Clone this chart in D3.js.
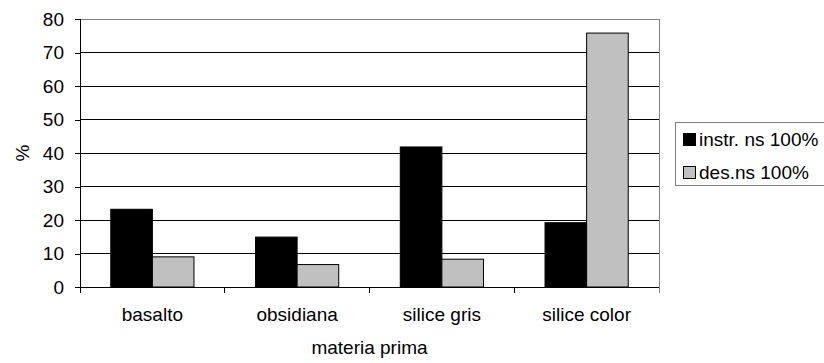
<!DOCTYPE html>
<html><head><meta charset="utf-8">
<script src="https://cdn.jsdelivr.net/npm/d3@7/dist/d3.min.js"></script>
<style>body{margin:0;background:#fff}svg{display:block}text{font-family:"Liberation Sans",Arial,sans-serif;fill:#000}</style>
</head><body><svg id="c" width="824" height="363"></svg>
<script>
const categories = ["basalto", "obsidiana", "silice gris", "silice color"];
const seriesNames = ["instr. ns 100%", "des.ns 100%"];
const instr = [23.2, 14.9, 41.8, 19.2];
const des = [9.0, 6.7, 8.3, 75.8];
const yTicks = [0, 10, 20, 30, 40, 50, 60, 70, 80];
const colors = ["#000000", "#c0c0c0"];

const FS = "19px";
const svg = d3.select("#c");
const L = 80, R = 659, T = 19, B = 287;
const x = d3.scaleBand().domain(categories).range([L, R]);
const xi = d3.scaleBand().domain([0, 1]).range([0, x.bandwidth()]).paddingOuter(0.74);
const y = d3.scaleLinear().domain([0, 80]).range([B, T]);

// gridlines
svg.append("g").selectAll("line").data(yTicks.slice(1)).join("line")
  .attr("x1", L).attr("x2", R).attr("y1", d => y(d)).attr("y2", d => y(d))
  .attr("stroke", d => d === 80 ? "#808080" : "#000").attr("stroke-width", 1).attr("shape-rendering", "crispEdges");
svg.append("line").attr("x1", R).attr("x2", R).attr("y1", T).attr("y2", B)
  .attr("stroke", "#808080").attr("shape-rendering", "crispEdges");

// bars
const data = categories.map((c, i) => ({c, v: [instr[i], des[i]]}));
const g = svg.append("g");
data.forEach(d => {
  d.v.forEach((v, k) => {
    g.append("rect").attr("x", x(d.c) + xi(k)).attr("y", y(v))
      .attr("width", xi.bandwidth()).attr("height", y(0) - y(v))
      .attr("fill", colors[k]).attr("stroke", "#000").attr("stroke-width", 1);
  });
});

// y axis
const ya = svg.append("g").attr("transform", `translate(${L},0)`)
  .call(d3.axisLeft(y).tickValues(yTicks).tickSize(5).tickPadding(11));
ya.select(".domain").attr("d", `M0,${T}V${B}`);
ya.selectAll("text").style("font-size", FS).style("font-family", "Liberation Sans");
ya.selectAll("line, path").attr("stroke", "#000").attr("shape-rendering", "crispEdges");

// x axis
const xa = svg.append("g").attr("transform", `translate(0,${B})`)
  .call(d3.axisBottom(x).tickSize(0).tickPadding(20.5));
xa.select(".domain").attr("d", `M${L},0H${R}`).attr("stroke", "#000").attr("shape-rendering", "crispEdges");
xa.selectAll("text").style("font-size", FS).style("font-family", "Liberation Sans");
svg.append("g").selectAll("line").data(d3.range(categories.length + 1)).join("line")
  .attr("x1", i => L + i * x.step()).attr("x2", i => L + i * x.step())
  .attr("y1", B).attr("y2", B + 6).attr("stroke", i => i === categories.length ? "#808080" : "#000")
  .attr("shape-rendering", "crispEdges");

// axis titles
svg.append("text").attr("x", (L + R) / 2).attr("y", 354).attr("text-anchor", "middle")
  .style("font-size", FS).text("materia prima");
svg.append("text").attr("transform", `translate(29,${(T + B) / 2}) rotate(-90)`).attr("text-anchor", "middle")
  .style("font-size", FS).text("%");

// legend
const lg = svg.append("g");
lg.append("rect").attr("x", 675.5).attr("y", 122.5).attr("width", 150).attr("height", 63)
  .attr("fill", "#fff").attr("stroke", "#808080");
seriesNames.forEach((s, k) => {
  lg.append("rect").attr("x", 683.5).attr("y", 133.5 + k * 33).attr("width", 12).attr("height", 12)
    .attr("fill", colors[k]).attr("stroke", "#000");
  lg.append("text").attr("x", 699).attr("y", 146 + k * 33).style("font-size", FS).text(s);
});
</script></body></html>
